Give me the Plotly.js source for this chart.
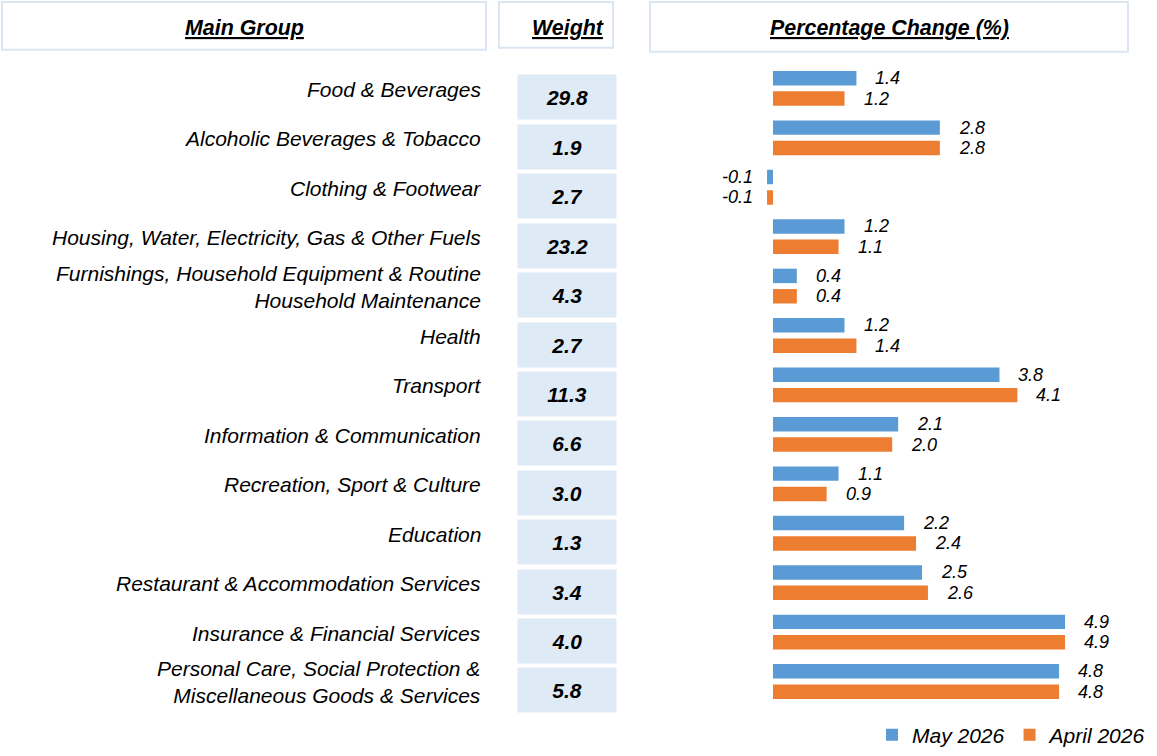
<!DOCTYPE html>
<html>
<head>
<meta charset="utf-8">
<script src="https://cdn.plot.ly/plotly-3.0.1.min.js"></script>
<style>html,body{margin:0;padding:0;background:#fff;}#chart{width:1157px;height:756px;}</style>
</head>
<body>
<div id="chart"></div>
<script>
// ---- data ----
const categories = [
  "Food & Beverages",
  "Alcoholic Beverages & Tobacco",
  "Clothing & Footwear",
  "Housing, Water, Electricity, Gas & Other Fuels",
  "Furnishings, Household Equipment & Routine<br>Household Maintenance",
  "Health",
  "Transport",
  "Information & Communication",
  "Recreation, Sport & Culture",
  "Education",
  "Restaurant & Accommodation Services",
  "Insurance & Financial Services",
  "Personal Care, Social Protection &<br>Miscellaneous Goods & Services"
];
const weights = [29.8, 1.9, 2.7, 23.2, 4.3, 2.7, 11.3, 6.6, 3.0, 1.3, 3.4, 4.0, 5.8];
const may2026 = [1.4, 2.8, -0.1, 1.2, 0.4, 1.2, 3.8, 2.1, 1.1, 2.2, 2.5, 4.9, 4.8];
const april2026 = [1.2, 2.8, -0.1, 1.1, 0.4, 1.4, 4.1, 2.0, 0.9, 2.4, 2.6, 4.9, 4.8];
const seriesNames = ["May 2026", "April 2026"];
const headers = ["Main Group", "Weight", "Percentage Change (%)"];

// ---- layout helpers ----
const W = 1157, H = 756;
const px = v => v / W;
const py = v => 1 - v / H;
const FONT = "Arial, 'Liberation Sans', Helvetica, sans-serif";
const BLUE = "#5B9BD5", ORANGE = "#ED7D31";

const traces = [
  {type: "bar", orientation: "h", name: seriesNames[0], y: categories, x: may2026,
   marker: {color: BLUE}, hoverinfo: "skip"},
  {type: "bar", orientation: "h", name: seriesNames[1], y: categories, x: april2026,
   marker: {color: ORANGE}, hoverinfo: "skip"}
];

const annotations = [];
const shapes = [];

// header boxes
const headerBoxes = [[2, 2, 486, 50, 244], [499, 2, 613, 48, 568], [650, 2, 1128, 52, 889]];
headers.forEach((h, i) => {
  const b = headerBoxes[i];
  shapes.push({type: "rect", xref: "paper", yref: "paper",
    x0: px(b[0]), x1: px(b[2]), y0: py(b[1]), y1: py(b[3]),
    line: {color: "#DCE6F2", width: 2}, fillcolor: "rgba(0,0,0,0)"});
  annotations.push({xref: "paper", yref: "paper", x: px(b[4]), y: py(28),
    xanchor: "center", yanchor: "middle", showarrow: false, text: h,
    font: {family: FONT, size: 21.4, color: "#000", weight: "bold", style: "italic", lineposition: "under"}});
});

// category labels and weights
categories.forEach((c, i) => {
  annotations.push({xref: "paper", yref: "y", x: px(483), y: c, yshift: -1,
    xanchor: "right", yanchor: "middle", align: "right", showarrow: false, text: c,
    font: {family: FONT, size: 21, color: "#000", style: "italic"}});
  annotations.push({xref: "paper", yref: "y", x: px(567), y: c, yshift: -9,
    xanchor: "center", yanchor: "middle", showarrow: false, text: weights[i].toFixed(1),
    width: 98, height: 44, borderpad: 0, bgcolor: "#DEEAF6", valign: "middle",
    font: {family: FONT, size: 21, color: "#000", weight: "bold", style: "italic"}});
});

// value labels
[may2026, april2026].forEach((arr, s) => {
  arr.forEach((v, i) => {
    annotations.push({xref: "x", yref: "y", x: v, y: categories[i],
      yshift: s === 0 ? 10.25 : -10.25,
      xanchor: v < 0 ? "right" : "left", xshift: v < 0 ? -12 : 17,
      yanchor: "middle", showarrow: false, text: v.toFixed(1),
      font: {family: FONT, size: 18, color: "#000", style: "italic"}});
  });
});

const layout = {
  width: W, height: H,
  margin: {l: 0, r: 0, t: 0, b: 0},
  paper_bgcolor: "#fff", plot_bgcolor: "#fff",
  barmode: "group", bargap: 0.176, bargroupgap: 0.29,
  xaxis: {domain: [px(743.2), px(1130.6)], range: [-0.5, 6.0], autorange: false,
    showgrid: false, zeroline: false, showticklabels: false, ticks: "", showline: false, fixedrange: true},
  yaxis: {domain: [py(710.9), py(64.1)], type: "category", range: [12.5, -0.5], autorange: false,
    showgrid: false, zeroline: false, showticklabels: false, ticks: "", showline: false, fixedrange: true},
  showlegend: true,
  legend: {orientation: "h", x: px(872), xanchor: "left", y: py(740), yanchor: "middle",
    font: {family: FONT, size: 21, color: "#000", style: "italic"}, bgcolor: "rgba(0,0,0,0)",
    traceorder: "normal"},
  shapes: shapes,
  annotations: annotations,
  font: {family: FONT}
};

Plotly.newPlot("chart", traces, layout, {staticPlot: true, displayModeBar: false});
</script>
</body>
</html>
